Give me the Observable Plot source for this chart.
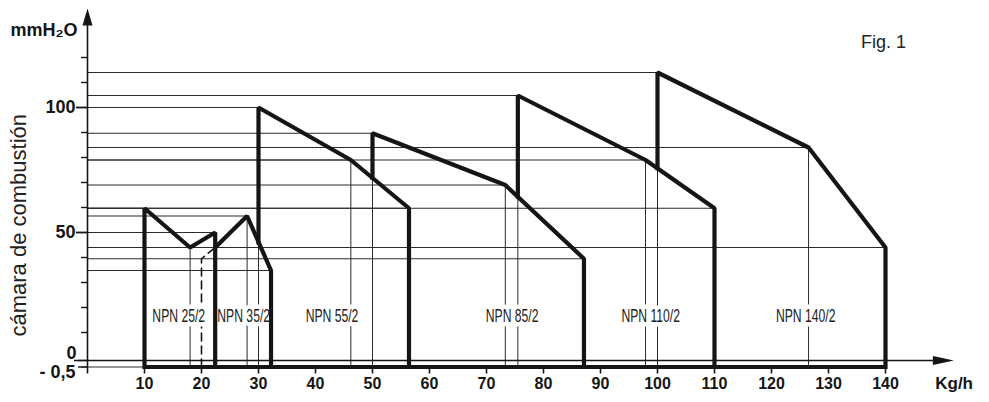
<!DOCTYPE html>
<html>
<head>
<meta charset="utf-8">
<script src="https://cdn.jsdelivr.net/npm/d3@7"></script>
<script src="https://cdn.jsdelivr.net/npm/@observablehq/plot@0.6"></script>
<style>
  body { margin: 0; background: #fff; }
  #chart { width: 989px; height: 402px; }
</style>
</head>
<body>
<div id="chart"></div>
<script>
// ---- data ----
const models = ["NPN 25/2", "NPN 35/2", "NPN 55/2", "NPN 85/2", "NPN 110/2", "NPN 140/2"];
const startX = [10, 22.4, 30, 50, 75.5, 100];        // Kg/h, left edge of each range
const startY = [59.7, 44, 100, 89.7, 104.8, 114];    // mmH2O at left edge (top)
const jointY = [-0.5, 44, 46, 71.8, 64.3, 75.7];     // where the bold left edge meets the previous curve
const kneeX  = [18, 28, 46.2, 73.3, 97.9, 126.5];
const kneeY  = [44, 56.6, 79, 69, 79, 84];
const endX   = [22.4, 32.2, 56.4, 87.1, 110, 140];
const endY   = [50, 34.8, 59.7, 39.5, 59.7, 44];
const labelX = [16, 27.4, 42.9, 74.5, 98.8, 126];
const labelY = [16.6, 16.6, 16.6, 16.6, 16.6, 16.6];

const dashedX = [20, 20, 22.4];
const dashedY = [-0.5, 39.5, 44];

const baseY = -0.5;
const axisXTip = 152;
const axisYTip = 139.6;

const xTicks = [10, 20, 30, 40, 50, 60, 70, 80, 90, 100, 110, 120, 130, 140];
const yMinorTicks = [10, 20, 30, 40, 60, 70, 80, 90, 110, 120];
const yMajorTicks = [50, 100];
const yLowTicks = [-0.5, 0];
const yLabelValues = [-0.5, 0, 50, 100];
const yLabelTexts = ["- 0,5", "0", "50", "100"];

// ---- derived tables ----
const outline = models.flatMap((m, i) => [
  {m, x: startX[i], y: jointY[i]},
  {m, x: startX[i], y: startY[i]},
  {m, x: kneeX[i], y: kneeY[i]},
  {m, x: endX[i], y: endY[i]},
  {m, x: endX[i], y: baseY}
]);
const hLines = models.flatMap((m, i) => [
  {x: startX[i], y: startY[i]},
  {x: kneeX[i], y: kneeY[i]},
  {x: endX[i], y: endY[i]}
]);
const kneeLines = models.map((m, i) => ({x: kneeX[i], y: kneeY[i]}));
const leftLines = models.map((m, i) => ({x: startX[i], y: jointY[i]}));
const dashed = dashedX.map((x, i) => ({x, y: dashedY[i]}));
const labels = models.map((m, i) => ({m, x: labelX[i], y: labelY[i]}));
const fmtY = d => yLabelTexts[yLabelValues.indexOf(d)];

const arrowUp = {draw(ctx) { ctx.moveTo(0, 0); ctx.lineTo(5, 17); ctx.lineTo(-5, 17); ctx.closePath(); }};
const arrowRight = {draw(ctx) { ctx.moveTo(0, 0); ctx.lineTo(-21, 4.5); ctx.lineTo(-21, -4.5); ctx.closePath(); }};

const FONT = "Liberation Sans, Arial, sans-serif";
const INK = "#151515";
const THIN = "#2b2b2b";

const svg = Plot.plot({
  width: 989,
  height: 402,
  marginLeft: 87,
  marginRight: 18.5,
  marginTop: 7,
  marginBottom: 35.5,
  style: {fontFamily: FONT, background: "white", color: INK},
  x: {domain: [0, 155]},
  y: {type: "linear", domain: [-0.5, 0, 10, 140], range: [366.5, 360, 332, 7]},
  marks: [
    // thin horizontal reference lines
    Plot.ruleY(hLines, {y: "y", x1: 0, x2: "x", stroke: THIN, strokeWidth: 1}),
    // thin verticals at the knees and below the bold left edges
    Plot.ruleX(kneeLines, {x: "x", y1: "y", y2: baseY, stroke: THIN, strokeWidth: 1}),
    Plot.ruleX(leftLines, {x: "x", y1: "y", y2: baseY, stroke: THIN, strokeWidth: 1}),
    // dashed line
    Plot.line(dashed, {x: "x", y: "y", stroke: INK, strokeWidth: 1.6, strokeDasharray: "8,5"}),
    // baseline 0 (x axis with arrow)
    Plot.ruleY([0], {y: d => d, x1: 0, x2: axisXTip - 2, insetLeft: -13, stroke: INK, strokeWidth: 1.4}),
    Plot.dot([axisXTip], {x: d => d, y: 0, symbol: arrowRight, fill: INK, stroke: "none"}),
    // -0.5 line
    Plot.ruleY([baseY], {y: d => d, x1: 0, x2: startX[0], insetLeft: -6, stroke: THIN, strokeWidth: 1.2}),
    // y axis line with arrow
    Plot.ruleX([0], {x: d => d, y1: axisYTip - 2, y2: baseY, insetBottom: -7, stroke: INK, strokeWidth: 1.6}),
    Plot.dot([axisYTip], {x: 0, y: d => d, symbol: arrowUp, fill: INK, stroke: "none"}),
    // axes
    Plot.axisX({ticks: xTicks, tickSize: 7, tickPadding: 4, strokeWidth: 1.6, fontSize: 16, fontWeight: "bold", label: null}),
    Plot.axisY({ticks: yMinorTicks, tickSize: 6, strokeWidth: 1.4, tickFormat: () => "", label: null}),
    Plot.axisY({ticks: yLowTicks, tickSize: 9, strokeWidth: 1.4, tickFormat: () => "", label: null}),
    Plot.axisY({ticks: yMajorTicks, tickSize: 11, tickPadding: 1, strokeWidth: 1.8, fontSize: 18, fontWeight: "bold", tickFormat: fmtY, label: null}),
    Plot.axisY({ticks: [0], tickSize: 0, tickPadding: 11, dy: -7, fontSize: 18, fontWeight: "bold", tickFormat: fmtY, label: null}),
    Plot.axisY({ticks: [-0.5], tickSize: 0, tickPadding: 12, dy: 5, fontSize: 18, fontWeight: "bold", tickFormat: fmtY, label: null}),
    // model labels with white halo
    Plot.text(labels, {x: "x", y: "y", text: "m", fontSize: 19, fill: "#222", stroke: "white", strokeWidth: 9, paintOrder: "stroke"}),
    // bold range outlines
    Plot.line(outline, {x: "x", y: "y", z: "m", stroke: INK, strokeWidth: 4.2, strokeLinejoin: "miter", strokeLinecap: "square"}),
    Plot.ruleY([baseY], {y: d => d, x1: startX[0], x2: endX[endX.length - 1], stroke: INK, strokeWidth: 4}),
    // annotations
    Plot.text(["mmH₂O"], {frameAnchor: "top-left", text: d => d, textAnchor: "end", dx: -10, dy: 16, fontSize: 18, fontWeight: "bold", fill: INK}),
    Plot.text(["Kg/h"], {frameAnchor: "bottom-right", text: d => d, textAnchor: "end", dx: 2, dy: 22, fontSize: 17, fontWeight: "bold", fill: INK}),
    Plot.text(["Fig. 1"], {frameAnchor: "top-right", text: d => d, textAnchor: "end", dx: -65, dy: 28, fontSize: 18, fill: "#222"}),
    Plot.text(["cámara de combustión"], {frameAnchor: "left", text: d => d, textAnchor: "middle", rotate: -90, dx: -69, dy: 38, fontSize: 22, fill: "#222"})
  ]
});

document.getElementById("chart").appendChild(svg);

// condensed look for the model labels
d3.select(svg).selectAll("text")
  .filter(function () { return this.textContent.startsWith("NPN"); })
  .each(function () {
    const t = this.getAttribute("transform");
    if (t && t.startsWith("translate")) {
      this.setAttribute("transform", t + " scale(0.64,1)");
    } else {
      const w = this.getComputedTextLength();
      this.setAttribute("textLength", w * 0.64);
      this.setAttribute("lengthAdjust", "spacingAndGlyphs");
    }
  });
</script>
</body>
</html>
